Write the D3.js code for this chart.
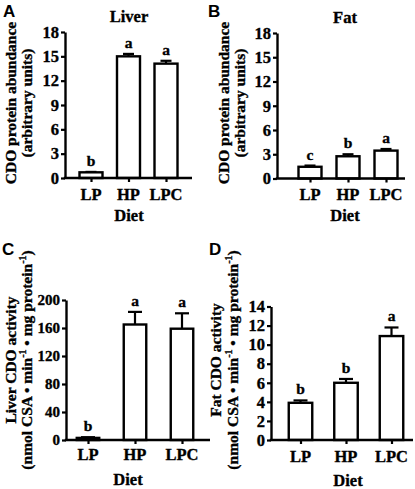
<!DOCTYPE html>
<html><head><meta charset="utf-8">
<script src="https://cdn.jsdelivr.net/npm/d3@7"></script>
<style>
html,body{margin:0;padding:0;background:#fff;}
svg{display:block;}
text{font-family:"Liberation Serif","Times New Roman",serif;font-weight:bold;fill:#000;stroke:#000;stroke-width:0.35px;}
.plet{font-family:"Liberation Sans",Arial,sans-serif;font-weight:bold;stroke-width:0;}
</style></head>
<body>
<svg id="chart" width="415" height="489"></svg>
<script>
const categories = ["LP","HP","LPC"];
const xTitle = "Diet";

const liverProtein = [0.7, 15.0, 14.1];
const liverProteinErr = [0.05, 0.3, 0.35];
const liverProteinLetters = ["b","a","a"];
const proteinTicks = [0,3,6,9,12,15,18];

const fatProtein = [1.45, 2.75, 3.45];
const fatProteinErr = [0.15, 0.25, 0.2];
const fatProteinLetters = ["c","b","a"];

const liverActivity = [3, 165, 159];
const liverActivityErr = [1, 18, 22];
const liverActivityLetters = ["b","a","a"];
const liverActivityTicks = [0,40,80,120,160,200];

const fatActivity = [3.9, 6.0, 10.9];
const fatActivityErr = [0.25, 0.4, 0.9];
const fatActivityLetters = ["b","b","a"];
const fatActivityTicks = [0,2,4,6,8,10,12,14];

const panels = [
  {letter:"A", title:"Liver", values:liverProtein, errs:liverProteinErr, sig:liverProteinLetters, ticks:proteinTicks,
   ylab:["CDO protein abundance","(arbitrary units)"],
   ax:65, yTop:32, yBot:178, xEnd:192, c0:91, c2:166, bw:23, cap:11,
   titlePos:[129,22], letPos:[3,17], ylabX:[16,32], ylabY:103, xlabY:200, dietPos:[129,221], tickFs:16.5},
  {letter:"B", title:"Fat", values:fatProtein, errs:fatProteinErr, sig:fatProteinLetters, ticks:proteinTicks,
   ylab:["CDO protein abundance","(arbitrary units)"],
   ax:277, yTop:33, yBot:178.5, xEnd:405, c0:310, c2:386, bw:23, cap:11,
   titlePos:[345,23], letPos:[208,17], ylabX:[229,245], ylabY:103, xlabY:200, dietPos:[345,221], tickFs:16.5},
  {letter:"C", title:null, values:liverActivity, errs:liverActivityErr, sig:liverActivityLetters, ticks:liverActivityTicks,
   ylab:["Liver CDO activity","act"],
   ax:66, yTop:300, yBot:440, xEnd:210, c0:88, c2:182, bw:22.5, cap:14,
   titlePos:null, letPos:[2,255], ylabX:[16,32], ylabY:360, xlabY:460, dietPos:[128,485], tickFs:15},
  {letter:"D", title:null, values:fatActivity, errs:fatActivityErr, sig:fatActivityLetters, ticks:fatActivityTicks,
   ylab:["Fat CDO activity","act"],
   ax:271, yTop:306.5, yBot:440, xEnd:413, c0:300.5, c2:391.5, bw:23.5, cap:14,
   titlePos:null, letPos:[209,255], ylabX:[221,238], ylabY:360, xlabY:462, dietPos:[348,486], tickFs:16.5}
];

const svg = d3.select("#chart");

panels.forEach(p => {
  const g = svg.append("g");
  const maxT = p.ticks[p.ticks.length-1];
  const y = d3.scaleLinear().domain([0,maxT]).range([p.yBot,p.yTop]);
  const x = d3.scalePoint().domain(categories).range([p.c0,p.c2]);

  g.append("text").attr("class","plet").attr("x",p.letPos[0]).attr("y",p.letPos[1])
    .attr("font-size",17).text(p.letter);
  if (p.title) g.append("text").attr("x",p.titlePos[0]).attr("y",p.titlePos[1])
    .attr("text-anchor","middle").attr("font-size",16.5).text(p.title);

  // error bars (upper only)
  categories.forEach((c,i) => {
    const cx = x(c);
    const top = y(p.values[i]+p.errs[i]);
    g.append("line").attr("x1",cx).attr("x2",cx).attr("y1",y(p.values[i])).attr("y2",top)
      .attr("stroke","#000").attr("stroke-width",2.2);
    g.append("line").attr("x1",cx-p.cap/2).attr("x2",cx+p.cap/2).attr("y1",top).attr("y2",top)
      .attr("stroke","#000").attr("stroke-width",2.2);
  });
  // bars
  g.selectAll("rect.bar").data(p.values).enter().append("rect")
    .attr("x",(d,i)=>x(categories[i])-p.bw/2)
    .attr("y",d=>y(d))
    .attr("width",p.bw)
    .attr("height",d=>Math.max(0,y(0)-y(d)))
    .attr("fill","#fff").attr("stroke","#000").attr("stroke-width",2.4);
  // significance letters
  categories.forEach((c,i) => {
    g.append("text").attr("x",x(c)).attr("y",y(p.values[i]+p.errs[i])-6)
      .attr("text-anchor","middle").attr("font-size",15.5).text(p.sig[i]);
  });

  // y axis
  const yAx = g.append("g").attr("transform",`translate(${p.ax},0)`)
    .call(d3.axisLeft(y).tickValues(p.ticks).tickSize(4).tickSizeOuter(0).tickPadding(2));
  yAx.select(".domain").attr("stroke-width",2.4);
  yAx.selectAll(".tick line").attr("stroke-width",2.2);
  yAx.selectAll(".tick text").attr("font-size",p.tickFs).attr("font-family",null);

  // x axis
  const xAx = g.append("g").attr("transform",`translate(0,${p.yBot})`)
    .call(d3.axisBottom(x).tickSize(4).tickSizeOuter(0).tickPadding(4));
  xAx.select(".domain").remove();
  xAx.selectAll(".tick line").attr("stroke-width",2.2);
  xAx.selectAll(".tick text").remove();
  g.append("line").attr("x1",p.ax-1.2).attr("x2",p.xEnd).attr("y1",p.yBot).attr("y2",p.yBot)
    .attr("stroke","#000").attr("stroke-width",2.4);
  categories.forEach(c => {
    g.append("text").attr("x",x(c)).attr("y",p.xlabY).attr("text-anchor","middle")
      .attr("font-size",16.5).text(c);
  });
  g.append("text").attr("x",p.dietPos[0]).attr("y",p.dietPos[1]).attr("text-anchor","middle")
    .attr("font-size",16.5).text(xTitle);

  // y labels
  g.append("text").attr("transform",`translate(${p.ylabX[0]},${p.ylabY}) rotate(-90)`)
    .attr("text-anchor","middle").attr("font-size",15.5).text(p.ylab[0]);
  const l2 = g.append("text").attr("transform",`translate(${p.ylabX[1]},${p.ylabY}) rotate(-90)`)
    .attr("text-anchor","middle").attr("font-size",15.5);
  if (p.ylab[1] === "act") {
    l2.append("tspan").text("(nmol CSA \u2022 min");
    l2.append("tspan").attr("dy",-6).attr("font-size",10).text("-1");
    l2.append("tspan").attr("dy",6).text(" \u2022 mg protein");
    l2.append("tspan").attr("dy",-6).attr("font-size",10).text("-1");
    l2.append("tspan").attr("dy",6).text(")");
  } else {
    l2.text(p.ylab[1]);
  }
});
</script>
</body></html>
